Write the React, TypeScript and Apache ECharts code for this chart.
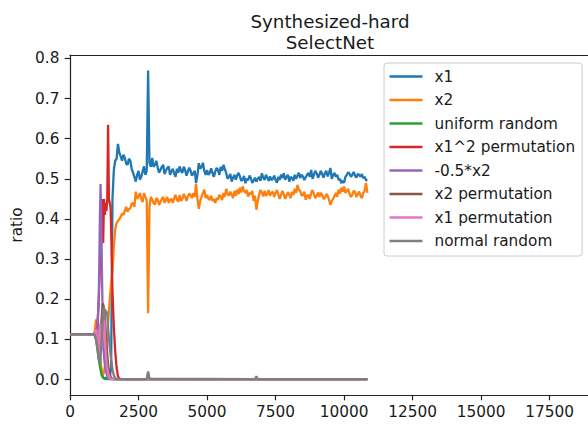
import React, { useEffect, useRef } from "react";
import * as echarts from "echarts";

const titleLines = ["Synthesized-hard", "SelectNet"];
const yAxisName = "ratio";
const xTicks = [0, 2500, 5000, 7500, 10000, 12500, 15000, 17500];
const yTicks = [0, 0.1, 0.2, 0.3, 0.4, 0.5, 0.6, 0.7, 0.8];

const seriesNames = [
  "x1",
  "x2",
  "uniform random",
  "x1^2 permutation",
  "-0.5*x2",
  "x2 permutation",
  "x1 permutation",
  "normal random",
];
const seriesColors = [
  "#1f77b4",
  "#ff7f0e",
  "#2ca02c",
  "#d62728",
  "#9467bd",
  "#8c564b",
  "#e377c2",
  "#7f7f7f",
];

// shared x positions for the two long series
const xMain = [
  0, 850,
  900, 950, 1000, 1050, 1100, 1150, 1200, 1250, 1300, 1350, 1400,
  1450, 1500, 1550, 1600, 1650, 1700, 1750, 1800, 1850, 1900, 1950,
  2000, 2050, 2100, 2150, 2200, 2250, 2300, 2350, 2400, 2450,
  2500, 2550, 2600, 2650, 2700, 2750, 2800, 2850, 2900, 2950,
  3000, 3050, 3100, 3150, 3200, 3250, 3300, 3350, 3400, 3450,
  3500, 3550, 3600, 3650, 3700, 3750, 3800, 3850, 3900, 3950,
  4000, 4050, 4100, 4150, 4200, 4250, 4300, 4350, 4400, 4450,
  4500, 4550, 4600, 4650, 4700, 4750, 4800, 4850, 4900, 4950,
  5000, 5050, 5100, 5150, 5200, 5250, 5300, 5350, 5400, 5450,
  5500, 5550, 5600, 5650, 5700, 5750, 5800, 5850, 5900, 5950,
  6000, 6050, 6100, 6150, 6200, 6250, 6300, 6350, 6400, 6450,
  6500, 6550, 6600, 6650, 6700, 6750, 6800, 6850, 6900, 6950,
  7000, 7050, 7100, 7150, 7200, 7250, 7300, 7350, 7400, 7450,
  7500, 7550, 7600, 7650, 7700, 7750, 7800, 7850, 7900, 7950,
  8000, 8050, 8100, 8150, 8200, 8250, 8300, 8350, 8400, 8450,
  8500, 8550, 8600, 8650, 8700, 8750, 8800, 8850, 8900, 8950,
  9000, 9050, 9100, 9150, 9200, 9250, 9300, 9350, 9400, 9450,
  9500, 9550, 9600, 9650, 9700, 9750, 9800, 9850, 9900, 9950,
  10000, 10050, 10100, 10150, 10200, 10250, 10300, 10350, 10400, 10450,
  10500, 10550, 10600, 10650, 10700, 10750, 10800, 10850,
];

const x1Vals = [
  0.113, 0.113,
  0.115, 0.13, 0.14, 0.1, 0.05, 0.02, 0.006, 0.003, 0.004, 0.003, 0.003,
  0.004, 0.03, 0.45, 0.522, 0.545, 0.55, 0.587, 0.565, 0.556, 0.545, 0.56,
  0.552, 0.538, 0.535, 0.55, 0.545, 0.525, 0.515, 0.505, 0.493, 0.51,
  0.52, 0.498, 0.505, 0.518, 0.531, 0.51, 0.52, 0.77, 0.54, 0.53,
  0.552, 0.53, 0.535, 0.545, 0.528, 0.515, 0.522, 0.53, 0.535, 0.512,
  0.52, 0.527, 0.531, 0.51, 0.518, 0.525, 0.514, 0.505, 0.525, 0.515,
  0.531, 0.52, 0.515, 0.53, 0.522, 0.508, 0.518, 0.528, 0.52, 0.508,
  0.514, 0.52, 0.49, 0.51, 0.539, 0.525, 0.53, 0.54, 0.52, 0.51,
  0.522, 0.51, 0.515, 0.526, 0.514, 0.505, 0.518, 0.527, 0.522, 0.51,
  0.53, 0.52, 0.535, 0.524, 0.514, 0.5, 0.505, 0.512, 0.493, 0.503,
  0.51, 0.498, 0.508, 0.515, 0.506, 0.495, 0.498, 0.507, 0.489, 0.5,
  0.497, 0.508, 0.502, 0.49, 0.495, 0.503, 0.493, 0.5, 0.505, 0.495,
  0.514, 0.503, 0.497, 0.51, 0.503, 0.495, 0.506, 0.497, 0.5, 0.508,
  0.497, 0.49, 0.505, 0.497, 0.51, 0.502, 0.514, 0.498, 0.505, 0.51,
  0.493, 0.505, 0.502, 0.495, 0.51, 0.5, 0.508, 0.515, 0.502, 0.51,
  0.506, 0.497, 0.504, 0.51, 0.515, 0.505, 0.522, 0.5, 0.51, 0.52,
  0.514, 0.503, 0.51, 0.52, 0.512, 0.503, 0.514, 0.52, 0.506, 0.515,
  0.527, 0.5, 0.51, 0.515, 0.505, 0.51, 0.497, 0.5, 0.489, 0.495,
  0.49, 0.505, 0.51, 0.516, 0.513, 0.505, 0.51, 0.517, 0.508, 0.503,
  0.512, 0.51, 0.505, 0.512, 0.502, 0.505, 0.497, 0.495,
];

const x2Vals = [
  0.113, 0.113,
  0.118, 0.15, 0.13, 0.09, 0.05, 0.025, 0.012, 0.02, 0.05, 0.1, 0.15,
  0.2, 0.24, 0.27, 0.33, 0.375, 0.39, 0.395, 0.4, 0.405, 0.414, 0.41,
  0.42, 0.43, 0.418, 0.425, 0.427, 0.438, 0.44, 0.43, 0.468, 0.45,
  0.456, 0.465, 0.45, 0.442, 0.464, 0.455, 0.447, 0.165, 0.43, 0.455,
  0.448, 0.44, 0.436, 0.452, 0.448, 0.435, 0.443, 0.45, 0.455, 0.44,
  0.448, 0.455, 0.44, 0.448, 0.45, 0.44, 0.452, 0.46, 0.448, 0.443,
  0.46, 0.445, 0.45, 0.462, 0.456, 0.445, 0.455, 0.463, 0.46, 0.452,
  0.464, 0.455, 0.488, 0.45, 0.425, 0.445, 0.455, 0.465, 0.473, 0.452,
  0.46, 0.45, 0.448, 0.458, 0.445, 0.45, 0.44, 0.452, 0.448, 0.46,
  0.456, 0.447, 0.465, 0.455, 0.475, 0.462, 0.458, 0.468, 0.46, 0.452,
  0.47, 0.458, 0.473, 0.462, 0.478, 0.466, 0.481, 0.47, 0.465, 0.472,
  0.456, 0.465, 0.462, 0.47, 0.445, 0.458, 0.423, 0.445, 0.46, 0.472,
  0.466, 0.456, 0.47, 0.458, 0.462, 0.472, 0.458, 0.465, 0.468, 0.455,
  0.465, 0.472, 0.462, 0.45, 0.46, 0.47, 0.462, 0.45, 0.458, 0.467,
  0.46, 0.452, 0.468, 0.46, 0.475, 0.465, 0.485, 0.472, 0.47, 0.458,
  0.46, 0.468, 0.448, 0.458, 0.46, 0.45, 0.465, 0.472, 0.462, 0.452,
  0.458, 0.466, 0.455, 0.465, 0.46, 0.45, 0.452, 0.462, 0.458, 0.448,
  0.435, 0.445, 0.45, 0.457, 0.465, 0.455, 0.473, 0.463, 0.478, 0.468,
  0.481, 0.465, 0.47, 0.475, 0.462, 0.455, 0.46, 0.47, 0.468, 0.455,
  0.462, 0.468, 0.458, 0.452, 0.465, 0.47, 0.49, 0.465,
];

const uniformRandom = [
  [0, 0.113], [850, 0.113], [900, 0.112], [950, 0.1], [1000, 0.075],
  [1050, 0.05], [1100, 0.03], [1150, 0.012], [1200, 0.005], [1250, 0.002],
  [1300, 0.001], [10850, 0.001],
];

const x1SqPermutation = [
  [0, 0.113], [850, 0.113], [900, 0.115], [950, 0.12], [1000, 0.13],
  [1050, 0.2], [1100, 0.3], [1150, 0.36], [1180, 0.45], [1210, 0.34],
  [1240, 0.45], [1270, 0.41], [1300, 0.44], [1330, 0.42], [1360, 0.45],
  [1390, 0.635], [1420, 0.45], [1450, 0.44], [1480, 0.43], [1500, 0.38],
  [1550, 0.22], [1600, 0.13], [1650, 0.07], [1700, 0.03], [1750, 0.008],
  [1800, 0.002], [1900, 0.001], [10850, 0.001],
];

const negHalfX2 = [
  [0, 0.113], [850, 0.113], [900, 0.11], [950, 0.1], [1000, 0.13],
  [1050, 0.2], [1090, 0.4], [1115, 0.487], [1140, 0.4], [1170, 0.25],
  [1200, 0.12], [1250, 0.05], [1300, 0.025], [1350, 0.01], [1400, 0.003],
  [1500, 0.001], [10850, 0.001],
];

const x2Permutation = [
  [0, 0.113], [850, 0.113], [900, 0.112], [950, 0.11], [1000, 0.09],
  [1050, 0.06], [1100, 0.09], [1150, 0.15], [1200, 0.19], [1250, 0.175],
  [1300, 0.12], [1350, 0.07], [1400, 0.03], [1450, 0.012], [1500, 0.004],
  [1600, 0.001], [2800, 0.001], [2850, 0.015], [2900, 0.001], [10850, 0.001],
];

const x1Permutation = [
  [0, 0.113], [850, 0.113], [900, 0.112], [950, 0.125], [1000, 0.09],
  [1050, 0.06], [1100, 0.14], [1150, 0.07], [1200, 0.11], [1250, 0.15],
  [1300, 0.07], [1350, 0.03], [1400, 0.012], [1450, 0.004], [1500, 0.001],
  [10850, 0.001],
];

const normalRandom = [
  [0, 0.113], [850, 0.113], [900, 0.112], [950, 0.1], [1000, 0.08],
  [1050, 0.05], [1100, 0.04], [1150, 0.09], [1200, 0.16], [1230, 0.18],
  [1260, 0.15], [1290, 0.175], [1320, 0.16], [1350, 0.17], [1400, 0.12],
  [1450, 0.08], [1500, 0.05], [1550, 0.025], [1600, 0.01], [1650, 0.003],
  [1700, 0.001], [2800, 0.001], [2850, 0.02], [2900, 0.002], [6750, 0.001],
  [6800, 0.008], [6850, 0.001], [10850, 0.001],
];

const FONT = '"DejaVu Sans", sans-serif';
const TXT = "#1a1a1a";

export default function App() {
  const ref = useRef<HTMLDivElement>(null);
  useEffect(() => {
    if (!ref.current) return;
    const chart = echarts.init(ref.current, undefined, { renderer: "svg" });
    const x1Data = xMain.map((x, i) => [x, x1Vals[i]]);
    const x2Data = xMain.map((x, i) => [x, x2Vals[i]]);
    const allData = [
      x1Data,
      x2Data,
      uniformRandom,
      x1SqPermutation,
      negHalfX2,
      x2Permutation,
      x1Permutation,
      normalRandom,
    ];
    const axisLineStyle = { color: "#222", width: 1.2 };
    chart.setOption({
      animation: false,
      backgroundColor: "#ffffff",
      textStyle: { fontFamily: FONT },
      graphic: [
        {
          type: "text",
          x: 330,
          y: 21,
          style: {
            text: titleLines[0],
            font: `18.3px ${FONT}`,
            fill: TXT,
            textAlign: "center",
            textVerticalAlign: "middle",
          },
        },
        {
          type: "text",
          x: 330,
          y: 42,
          style: {
            text: titleLines[1],
            font: `18.3px ${FONT}`,
            fill: TXT,
            textAlign: "center",
            textVerticalAlign: "middle",
          },
        },
      ],
      grid: { left: 70, top: 55, right: -2, bottom: 33, containLabel: false },
      legend: {
        orient: "vertical",
        left: 384,
        top: 63,
        data: seriesNames,
        icon: "rect",
        itemWidth: 33,
        itemHeight: 2.3,
        itemGap: 7.5,
        padding: [5.5, 7, 7, 5.5],
        backgroundColor: "rgba(255,255,255,0.8)",
        borderColor: "#cccccc",
        borderWidth: 1,
        borderRadius: 3,
        selectedMode: false,
        textStyle: {
          fontFamily: FONT,
          fontSize: 15.3,
          color: TXT,
          lineHeight: 16,
          padding: [0, 0, 0, 7],
        },
      },
      xAxis: [
        {
          type: "value",
          min: 0,
          max: 18900,
          interval: 2500,
          axisLine: { show: true, onZero: false, lineStyle: axisLineStyle },
          axisTick: {
            show: true,
            length: 5.3,
            lineStyle: axisLineStyle,
            customValues: xTicks,
          },
          axisLabel: {
            fontFamily: FONT,
            fontSize: 15.3,
            color: TXT,
            margin: 9,
            customValues: xTicks,
            formatter: (v: number) => String(v),
          },
          splitLine: { show: false },
        },
        {
          type: "value",
          position: "top",
          min: 0,
          max: 18900,
          axisLine: { show: true, onZero: false, lineStyle: axisLineStyle },
          axisTick: { show: false },
          axisLabel: { show: false },
          splitLine: { show: false },
        },
      ],
      yAxis: {
        type: "value",
        min: -0.0385,
        max: 0.8085,
        name: yAxisName,
        nameLocation: "middle",
        nameRotate: 90,
        nameGap: 39,
        nameTextStyle: { fontFamily: FONT, fontSize: 15.3, color: TXT },
        axisLine: { show: true, onZero: false, lineStyle: axisLineStyle },
        axisTick: {
          show: true,
          length: 5.3,
          lineStyle: axisLineStyle,
          customValues: yTicks,
        },
        axisLabel: {
          fontFamily: FONT,
          fontSize: 15.3,
          color: TXT,
          margin: 10.6,
          customValues: yTicks,
          formatter: (v: number) => v.toFixed(1),
        },
        splitLine: { show: false },
      },
      series: seriesNames.map((name, i) => ({
        type: "line",
        name,
        data: allData[i],
        xAxisIndex: 0,
        showSymbol: false,
        symbol: "none",
        silent: true,
        lineStyle: { width: 2.3, color: seriesColors[i] },
        itemStyle: { color: seriesColors[i] },
        emphasis: { disabled: true },
      })),
    });
    return () => chart.dispose();
  }, []);
  return (
    <div
      ref={ref}
      style={{ position: "fixed", left: 0, top: 0, width: 588, height: 428 }}
    />
  );
}
